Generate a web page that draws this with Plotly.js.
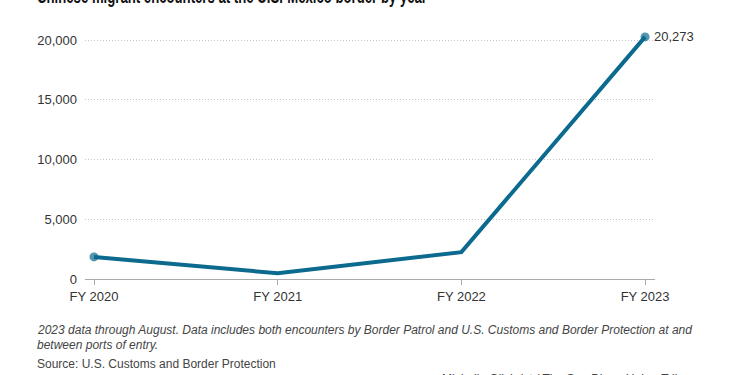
<!DOCTYPE html>
<html>
<head>
<meta charset="utf-8">
<script src="https://cdn.plot.ly/plotly-3.0.1.min.js"></script>
<style>
html,body{margin:0;padding:0;background:#fff;}
#chart{width:750px;height:375px;}
</style>
</head>
<body>
<div id="chart"></div>
<script>
const categories = ["FY 2020", "FY 2021", "FY 2022", "FY 2023"];
const encounters = [1850, 480, 2250, 20273];
const yTickVals = [0, 5000, 10000, 15000, 20000];
const yTickText = ["0", "5,000", "10,000", "15,000", "20,000"];
const titleText = "Chinese migrant encounters at the U.S.-Mexico border by year";
const noteLine1 = "2023 data through August. Data includes both encounters by Border Patrol and U.S. Customs and Border Protection at and";
const noteLine2 = "between ports of entry.";
const sourceText = "Source: U.S. Customs and Border Protection";
const creditText = "Michelle Gilchrist / The San Diego Union-Tribune";

const W = 750, H = 375;
const yMax = 20600;
const m = {l: 85, r: 95, t: 40 - Math.round(239 * (yMax - 20000) / 20000), b: 96};
const ph = H - m.t - m.b;
const yPaper = (py) => (H - m.b - py) / ph;
const xPaper = (px) => (px - m.l) / (W - m.l - m.r);

const color = "#0b6a8e";
const lastIdx = encounters.length - 1;

const traces = [{
  x: categories.map((_, i) => i),
  y: encounters,
  type: "scatter",
  mode: "lines+markers",
  line: {color: color, width: 4},
  marker: {color: color, size: encounters.map((_, i) => (i === 0 || i === lastIdx) ? 9 : 0), line: {width: 0}},
  cliponaxis: false,
  hoverinfo: "skip"
}];

const tickFont = {family: "Liberation Sans, Arial, sans-serif", size: 13, color: "#333"};
const noteFont = {family: "Liberation Sans Narrow, Arial Narrow, sans-serif", size: 12, color: "#444"};

const layout = {
  width: W, height: H,
  margin: m,
  paper_bgcolor: "#fff",
  plot_bgcolor: "#fff",
  showlegend: false,
  xaxis: {
    range: [-0.049, 3.054],
    tickvals: categories.map((_, i) => i),
    ticktext: categories,
    showgrid: false,
    zeroline: false,
    showline: false,
    ticks: "outside",
    ticklen: 5,
    tickcolor: "#aaa",
    tickwidth: 1,
    tickfont: tickFont,
    fixedrange: true
  },
  yaxis: {
    range: [0, yMax],
    tickvals: yTickVals,
    ticktext: yTickText,
    showgrid: true,
    gridcolor: "#c4c4c4",
    griddash: "1px,2px",
    gridwidth: 1,
    zeroline: true,
    zerolinecolor: "#aaa",
    zerolinewidth: 1,
    showline: false,
    ticks: "",
    ticklabelstandoff: 7,
    tickfont: tickFont,
    fixedrange: true
  },
  annotations: [
    {text: "<b>" + titleText + "</b>", xref: "paper", yref: "paper", x: xPaper(35), y: yPaper(4), xanchor: "left", yanchor: "bottom", yshift: -5, showarrow: false, font: {family: "Liberation Sans, Arial, sans-serif", size: 20, color: "#111"}},
    {text: encounters[lastIdx].toLocaleString("en-US"), xref: "x", yref: "y", x: lastIdx, y: encounters[lastIdx], xanchor: "left", yanchor: "middle", xshift: 7, showarrow: false, font: {family: "Liberation Sans, Arial, sans-serif", size: 13, color: "#333"}},
    {text: "<i>" + noteLine1 + "</i>", xref: "paper", yref: "paper", x: xPaper(35), y: yPaper(330), xanchor: "left", yanchor: "middle", showarrow: false, font: noteFont},
    {text: "<i>" + noteLine2 + "</i>", xref: "paper", yref: "paper", x: xPaper(35), y: yPaper(345), xanchor: "left", yanchor: "middle", showarrow: false, font: noteFont},
    {text: sourceText, xref: "paper", yref: "paper", x: xPaper(35), y: yPaper(364), xanchor: "left", yanchor: "middle", showarrow: false, font: noteFont},
    {text: creditText, xref: "paper", yref: "paper", x: xPaper(440), y: yPaper(379), xanchor: "left", yanchor: "middle", showarrow: false, font: noteFont}
  ]
};

Plotly.newPlot("chart", traces, layout, {displayModeBar: false, staticPlot: true}).then(() => {
  // condense the bold title to match the condensed headline face, keeping its left edge
  const t = document.querySelector(".annotation[data-index='0'] text.annotation-text");
  if (t) {
    const w0 = t.getComputedTextLength();
    const x0 = parseFloat(t.getAttribute("x") || "0");
    const target = 390;
    t.setAttribute("text-anchor", "start");
    t.setAttribute("x", String(x0 - w0 / 2));
    t.querySelectorAll("tspan").forEach(ts => { if (ts.hasAttribute("x")) ts.setAttribute("x", String(x0 - w0 / 2)); });
    t.setAttribute("textLength", String(target));
    t.setAttribute("lengthAdjust", "spacingAndGlyphs");
  }
});
</script>
</body>
</html>
